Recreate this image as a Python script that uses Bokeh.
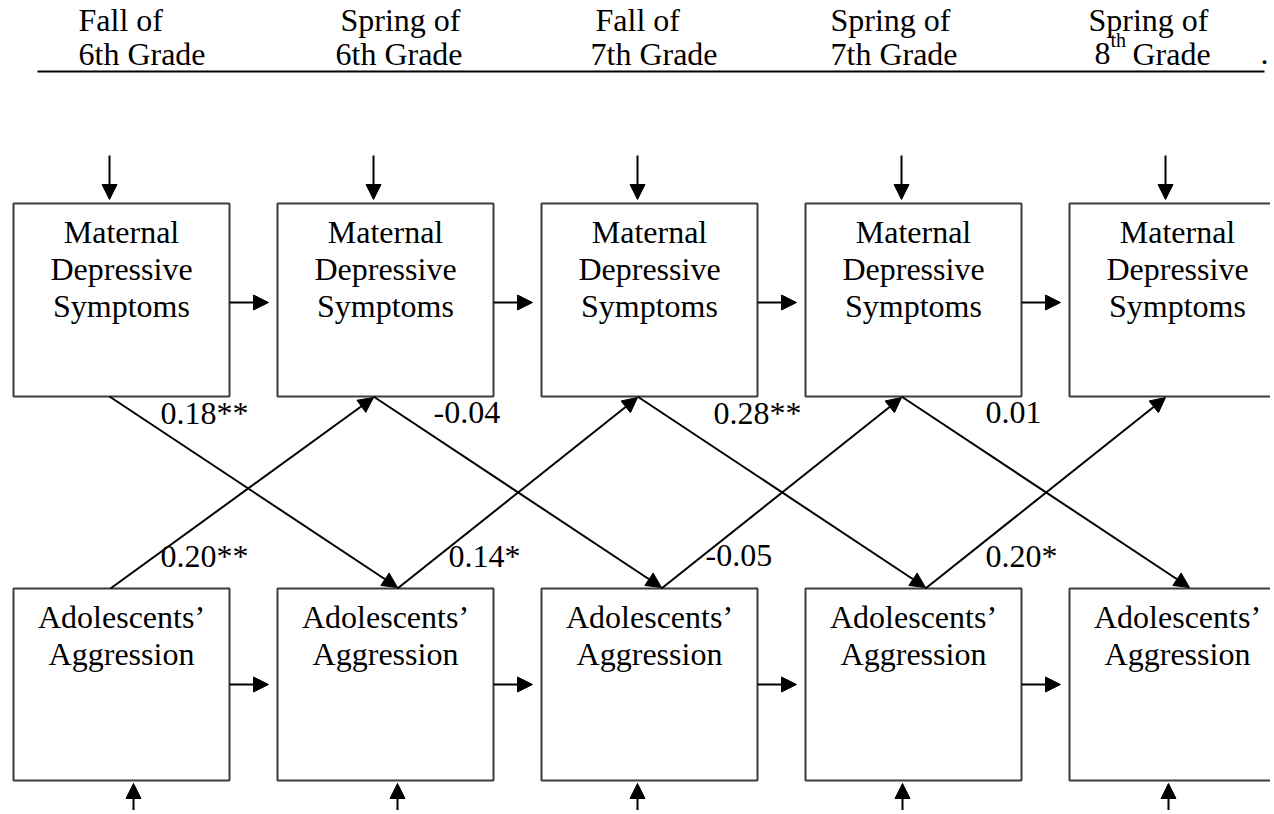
from bokeh.plotting import figure
from bokeh.models import Range1d, Arrow, NormalHead, ColumnDataSource
from bokeh.core.properties import value
from bokeh.embed import file_html
from bokeh.resources import INLINE

# ---------------- data ----------------
wave_line1 = ["Fall of", "Spring of", "Fall of", "Spring of", "Spring of"]
wave_line2 = ["6th Grade", "6th Grade", "7th Grade", "7th Grade", "8"]
wave_sup = ["", "", "", "", "th"]
wave_tail = ["", "", "", "", "Grade"]
top_label = ["Maternal", "Depressive", "Symptoms"]
bottom_label = ["Adolescents\u2019", "Aggression"]
coef_mat_to_agg = ["0.18**", "-0.04", "0.28**", "0.01"]
coef_agg_to_mat = ["0.20**", "0.14*", "-0.05", "0.20*"]

# ---------------- layout (reference pixel space) ----------------
W, H = 1270, 810
FONT = value("Liberation Serif")
FS = value("32px")
DY = -12  # text baseline correction

p = figure(width=W, height=H, x_range=Range1d(0, W), y_range=Range1d(H, 0),
           output_backend="svg", toolbar_location=None, min_border=0,
           x_axis_type=None, y_axis_type=None)
p.grid.visible = False
p.outline_line_color = None
p.background_fill_color = "white"
p.border_fill_color = "white"

n = len(wave_line1)
step = 264
left = [13 + step * i for i in range(n)]
bw = 216
top_y0, top_y1 = 203, 396
bot_y0, bot_y1 = 588, 780


def txt(x, y, t, size=FS, align="left"):
    p.text(x=x, y=[v + DY for v in y], text=t, text_font=FONT, text_font_size=size,
           text_align=align, text_baseline="alphabetic", text_color="black")


# header
txt([78, 340, 595, 830, 1088], [31] * n, wave_line1)
txt([78, 335, 590, 830, 1094], [65] * n, wave_line2)
txt([1110], [51], [wave_sup[4]], size=value("20px"))
txt([1132], [65], [wave_tail[4]])
txt([1260], [65], ["."])
p.segment(x0=[37], y0=[71], x1=[1264], y1=[71], line_color="black", line_width=2)

# boxes
p.quad(left=left, right=[l + bw for l in left], top=[top_y0] * n, bottom=[top_y1] * n,
       fill_color="white", line_color="#3c3c3c", line_width=2)
p.quad(left=left, right=[l + bw for l in left], top=[bot_y0] * n, bottom=[bot_y1] * n,
       fill_color="white", line_color="#3c3c3c", line_width=2)

# box labels
cx = [l + bw / 2 for l in left]
for k, t in enumerate(top_label):
    txt(cx, [243 + 37 * k] * n, [t] * n, align="center")
for k, t in enumerate(bottom_label):
    txt(cx, [628 + 37 * k] * n, [t] * n, align="center")

# coefficient labels
txt([160, 433, 713, 985], [424] * 4, coef_mat_to_agg)
txt([160, 448, 705, 985], [567] * 4, coef_agg_to_mat)


def arrows(x0, y0, x1, y1):
    src = ColumnDataSource(dict(x0=x0, y0=y0, x1=x1, y1=y1))
    p.add_layout(Arrow(end=NormalHead(size=15, fill_color="black", line_color="black", line_width=1),
                       x_start="x0", y_start="y0", x_end="x1", y_end="y1",
                       source=src, line_color="black", line_width=2))


# residual arrows into top boxes
tx = [l + 96 for l in left]
arrows(tx, [155] * n, tx, [199] * n)
# residual arrows into bottom boxes
bx = [left[0] + 120, left[1] + 120, left[2] + 96, left[3] + 97, left[4] + 99]
arrows(bx, [830] * n, bx, [783] * n)
# stability paths
hx0 = [l + bw for l in left[:-1]]
hx1 = [l - 9 for l in left[1:]]
arrows(hx0, [302] * (n - 1), hx1, [302] * (n - 1))
arrows(hx0, [684] * (n - 1), hx1, [684] * (n - 1))
# cross-lagged: maternal -> aggression
arrows([l + 96 for l in left[:-1]], [top_y1] * (n - 1),
       [l + 120 for l in left[1:]], [bot_y0 - 1] * (n - 1))
# cross-lagged: aggression -> maternal
ux0 = [left[0] + 97] + [l + 120 for l in left[1:-1]]
arrows(ux0, [bot_y0] * (n - 1), [l + 96 for l in left[1:]], [top_y1 + 1] * (n - 1))

open("out.html", "w").write(file_html(p, INLINE))
